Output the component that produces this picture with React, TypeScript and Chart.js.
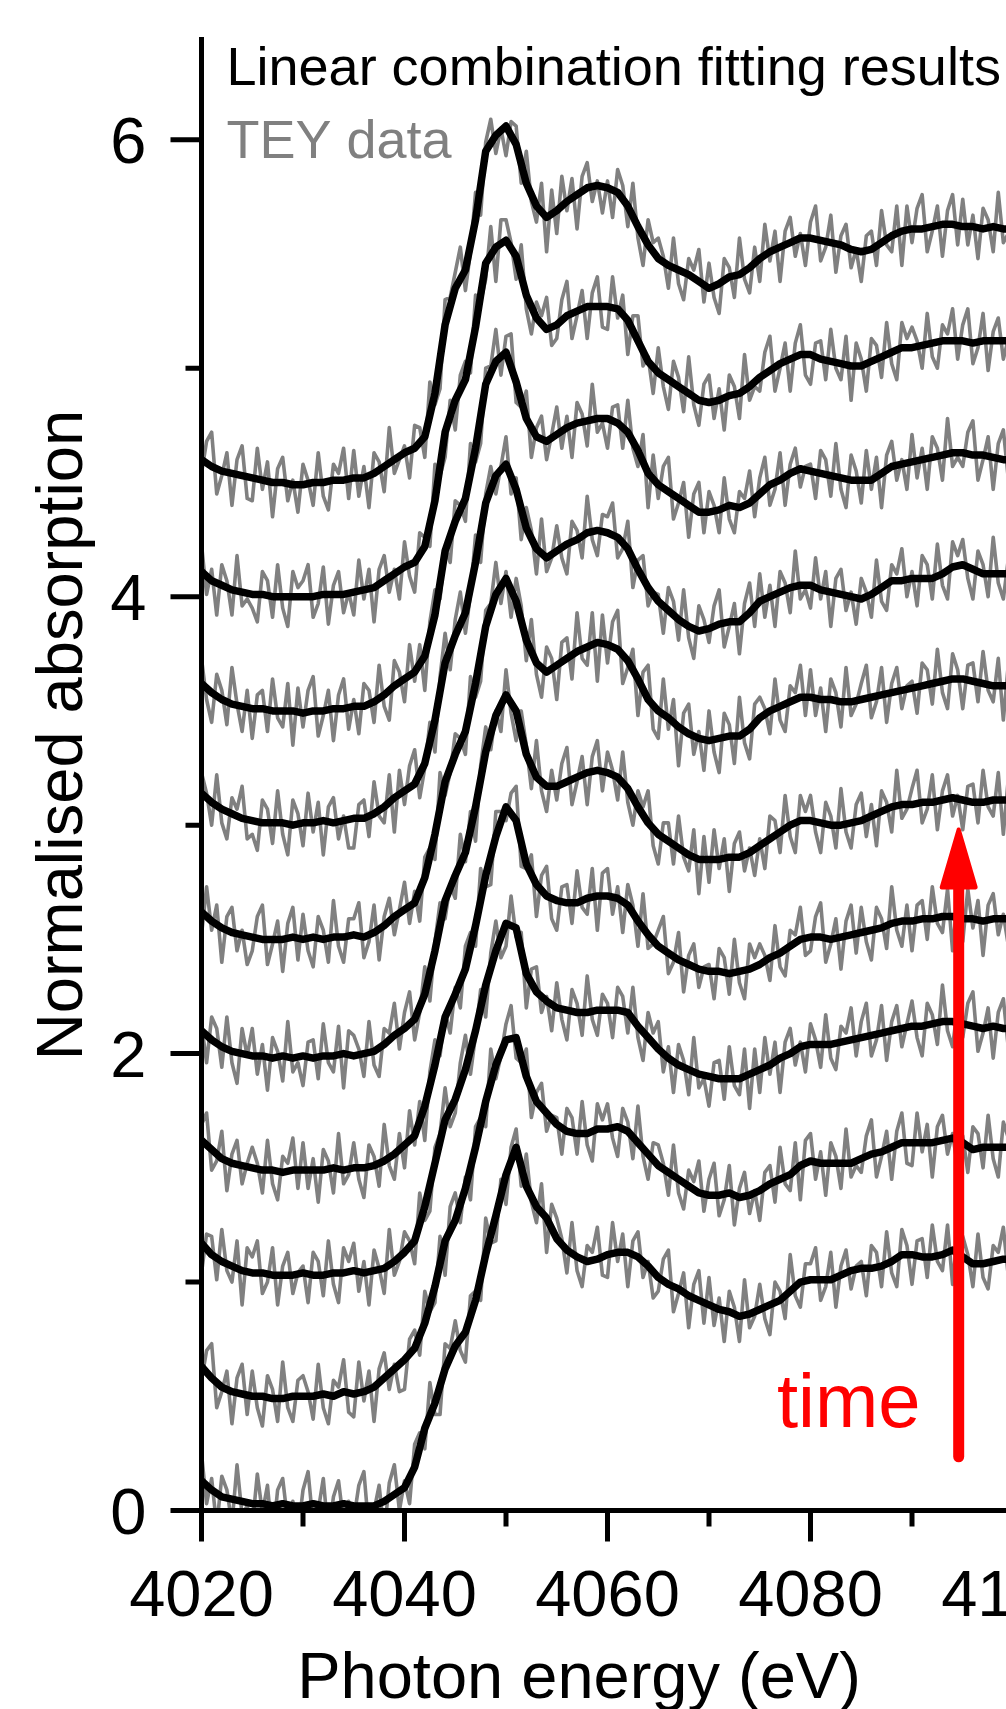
import React, { useEffect, useRef } from "react";
import { Chart, registerables } from "chart.js";

Chart.register(...registerables);

// ---------- data ----------
const energyStart = 4020; // eV
const fitStep = 1; // eV between fit points
const teyStep = 0.5; // eV between TEY points
const xMin = 4020;
const xMax = 4100;
const yMin = 0;
const yMax = 6.45;

const xMajorTicks = [4020, 4040, 4060, 4080, 4100];
const xMinorTicks = [4030, 4050, 4070, 4090];
const yMajorTicks = [0, 2, 4, 6];
const yMinorTicks = [1, 3, 5];

// vertical offsets of the stacked spectra (bottom = earliest)
const offsets = [0.0, 0.52, 1.05, 1.5, 2.0, 2.52, 3.03, 3.52, 4.02, 4.53];

// Linear combination fits (4020..4100 eV, 1 eV steps), relative to offset
const fit0 = [0.13,0.09,0.06,0.05,0.04,0.03,0.03,0.02,0.03,0.02, 0.02,0.03,0.02,0.02,0.03,0.02,0.02,0.02,0.04,0.07, 0.10,0.19,0.36,0.47,0.62,0.72,0.78,0.92,1.12,1.29, 1.47,1.59,1.42,1.33,1.28,1.19,1.14,1.11,1.09,1.10, 1.12,1.13,1.13,1.11,1.07,1.02,0.99,0.97,0.94,0.92, 0.90,0.88,0.87,0.85,0.86,0.88,0.90,0.92,0.96,1.00, 1.01,1.01,1.01,1.03,1.05,1.06,1.06,1.07,1.09,1.12, 1.12,1.11,1.11,1.12,1.14,1.11,1.08,1.08,1.09,1.10, 1.10];
const fit1 = [0.11,0.06,0.02,0.00,-0.01,-0.02,-0.02,-0.03,-0.03,-0.02, -0.02,-0.02,-0.01,-0.02,0.00,-0.01,0.00,0.02,0.06,0.10, 0.14,0.19,0.30,0.46,0.66,0.75,0.89,1.07,1.27,1.43, 1.54,1.55,1.38,1.27,1.22,1.17,1.14,1.13,1.13,1.15, 1.15,1.16,1.14,1.09,1.04,0.99,0.96,0.93,0.90,0.87, 0.86,0.86,0.87,0.85,0.86,0.88,0.91,0.93,0.95,0.99, 1.01,1.00,1.00,1.00,1.00,1.02,1.04,1.05,1.07,1.09, 1.09,1.09,1.09,1.10,1.11,1.09,1.06,1.07,1.07,1.07, 1.07];
const fit2 = [0.12,0.07,0.04,0.02,0.00,-0.01,-0.01,-0.02,-0.02,-0.02, -0.01,-0.02,-0.02,-0.01,-0.01,0.00,-0.01,0.00,0.01,0.04, 0.08,0.13,0.28,0.47,0.66,0.75,0.88,1.05,1.25,1.40, 1.52,1.50,1.30,1.22,1.18,1.15,1.14,1.13,1.13,1.14, 1.14,1.14,1.13,1.07,1.02,0.97,0.93,0.90,0.88,0.86, 0.85,0.84,0.84,0.84,0.86,0.88,0.90,0.93,0.95,0.98, 0.99,0.99,0.99,1.00,1.01,1.02,1.03,1.04,1.05,1.06, 1.07,1.07,1.08,1.09,1.09,1.08,1.07,1.06,1.07,1.06, 1.06];
const fit3 = [0.12,0.08,0.04,0.02,0.01,0.00,-0.01,-0.01,-0.02,-0.01, -0.01,-0.01,-0.01,0.00,-0.01,0.00,0.00,0.01,0.03,0.06, 0.10,0.14,0.27,0.45,0.66,0.76,0.87,1.06,1.28,1.45, 1.58,1.52,1.33,1.24,1.19,1.17,1.16,1.16,1.18,1.19, 1.19,1.18,1.15,1.08,1.02,0.97,0.94,0.91,0.89,0.87, 0.86,0.86,0.85,0.86,0.87,0.89,0.92,0.94,0.97,1.00, 1.01,1.01,1.00,1.01,1.02,1.03,1.04,1.05,1.07,1.08, 1.08,1.09,1.09,1.10,1.10,1.09,1.09,1.08,1.09,1.09, 1.09];
const fit4 = [0.10,0.06,0.03,0.01,0.00,-0.01,-0.01,-0.02,-0.01,-0.02, -0.01,-0.02,-0.01,-0.01,0.00,-0.01,0.00,0.01,0.04,0.08, 0.11,0.15,0.26,0.45,0.67,0.78,0.88,1.08,1.32,1.48, 1.57,1.50,1.31,1.21,1.17,1.17,1.19,1.21,1.23,1.24, 1.23,1.21,1.16,1.08,1.01,0.96,0.93,0.90,0.87,0.85, 0.85,0.85,0.86,0.86,0.88,0.91,0.94,0.97,1.00,1.02, 1.02,1.01,1.00,1.00,1.01,1.02,1.04,1.06,1.08,1.09, 1.09,1.10,1.10,1.11,1.12,1.11,1.10,1.10,1.11,1.11, 1.11];
const fit5 = [0.10,0.06,0.03,0.01,0.00,-0.01,-0.02,-0.02,-0.02,-0.01, -0.02,-0.01,-0.02,-0.01,-0.01,0.00,-0.01,0.01,0.04,0.08, 0.11,0.14,0.25,0.44,0.67,0.79,0.89,1.10,1.35,1.49, 1.56,1.46,1.29,1.19,1.15,1.18,1.21,1.24,1.26,1.28, 1.27,1.25,1.20,1.12,1.03,0.98,0.95,0.91,0.88,0.86, 0.85,0.86,0.87,0.87,0.90,0.95,0.98,1.00,1.02,1.04, 1.04,1.03,1.03,1.02,1.02,1.03,1.04,1.05,1.06,1.07, 1.08,1.09,1.10,1.11,1.12,1.12,1.11,1.10,1.09,1.09, 1.09];
const fit6 = [0.11,0.07,0.04,0.02,0.00,-0.01,-0.02,-0.02,-0.02,-0.03, -0.02,-0.02,-0.01,-0.02,-0.01,0.00,0.00,0.02,0.05,0.09, 0.12,0.15,0.24,0.43,0.68,0.80,0.90,1.12,1.38,1.50, 1.55,1.44,1.27,1.18,1.14,1.17,1.20,1.22,1.25,1.26, 1.25,1.23,1.18,1.09,1.01,0.95,0.91,0.87,0.84,0.82, 0.83,0.85,0.86,0.86,0.90,0.95,0.97,0.99,1.01,1.02, 1.02,1.00,0.99,0.98,0.97,0.96,0.98,1.01,1.04,1.04, 1.05,1.05,1.05,1.07,1.10,1.11,1.09,1.07,1.07,1.07, 1.07];
const fit7 = [0.10,0.06,0.03,0.01,0.00,-0.01,-0.01,-0.02,-0.02,-0.02, -0.03,-0.02,-0.02,-0.01,-0.01,0.00,0.00,0.02,0.05,0.09, 0.12,0.15,0.22,0.40,0.68,0.81,0.91,1.13,1.41,1.51, 1.55,1.42,1.26,1.18,1.16,1.19,1.22,1.24,1.25,1.26, 1.26,1.24,1.20,1.12,1.02,0.97,0.94,0.91,0.88,0.85, 0.85,0.86,0.88,0.87,0.89,0.93,0.97,0.99,1.02,1.04, 1.03,1.02,1.01,1.00,0.99,0.99,0.99,1.02,1.05,1.06, 1.07,1.08,1.09,1.10,1.11,1.11,1.10,1.10,1.09,1.08, 1.08];
const fit8 = [0.09,0.05,0.03,0.01,0.00,-0.01,-0.01,-0.02,-0.02,-0.02, -0.02,-0.02,-0.01,-0.01,-0.01,0.00,0.01,0.02,0.05,0.08, 0.11,0.13,0.20,0.40,0.70,0.84,0.93,1.16,1.44,1.51, 1.54,1.47,1.30,1.20,1.15,1.17,1.21,1.23,1.25,1.25, 1.25,1.24,1.19,1.10,1.01,0.96,0.93,0.90,0.87,0.84, 0.83,0.84,0.86,0.87,0.90,0.94,0.97,1.00,1.02,1.04, 1.04,1.02,1.01,1.00,0.99,0.99,1.01,1.03,1.05,1.07, 1.07,1.08,1.09,1.10,1.10,1.10,1.09,1.10,1.10,1.10, 1.10];
const fit9 = [0.07,0.04,0.02,0.01,0.00,-0.01,-0.02,-0.03,-0.03,-0.04, -0.04,-0.03,-0.03,-0.02,-0.02,-0.01,-0.01,0.01,0.04,0.07, 0.10,0.12,0.17,0.36,0.66,0.82,0.90,1.12,1.42,1.49, 1.53,1.45,1.28,1.18,1.13,1.16,1.20,1.23,1.26,1.27, 1.26,1.24,1.18,1.09,1.01,0.95,0.92,0.90,0.88,0.85, 0.82,0.84,0.87,0.88,0.91,0.95,0.98,1.00,1.02,1.04, 1.04,1.03,1.02,1.01,0.99,0.98,0.99,1.02,1.05,1.07, 1.08,1.08,1.09,1.10,1.10,1.09,1.09,1.08,1.09,1.08, 1.08];

// TEY data (4020..4100 eV, 0.5 eV steps), relative to offset
const tey0 = [
  0.25,0.03,0.14,-0.07,0.15,0.09,-0.06,0.20,-0.02,0.02,
  -0.07,0.16,-0.01,0.11,-0.13,0.09,0.14,-0.05,0.04,-0.10,
  0.09,0.17,-0.06,0.00,0.14,-0.11,0.06,0.13,-0.05,0.04,
  -0.04,0.11,0.17,-0.09,0.00,0.11,-0.10,0.12,0.20,0.00,
  0.13,0.03,0.29,0.34,0.27,0.56,0.42,0.42,0.73,0.71,
  0.83,0.70,0.65,0.94,0.96,0.92,1.28,1.17,1.18,1.45,
  1.34,1.59,1.67,1.42,1.56,1.35,1.26,1.43,1.13,1.34,
  1.28,1.19,1.04,1.26,1.05,0.98,1.16,1.13,1.24,1.03,
  1.02,1.26,1.09,1.21,0.98,1.18,1.22,1.02,1.09,0.93,
  0.96,1.10,1.14,0.87,0.95,1.04,0.80,0.99,1.05,0.82,
  1.02,0.81,0.93,0.74,0.96,0.89,0.74,1.01,0.80,0.85,
  0.99,0.84,0.77,1.00,0.96,0.84,1.12,0.94,0.89,1.08,
  1.08,1.15,0.92,0.98,1.13,0.89,1.07,1.14,0.97,1.07,
  1.09,0.94,1.16,1.13,0.98,1.22,1.04,0.98,1.23,1.16,
  0.99,1.18,1.19,1.02,1.25,1.09,1.05,1.25,0.99,1.23,
  1.20,1.12,0.98,1.21,1.02,0.97,1.16,1.13,1.24,1.02,
  1.13];
const tey1 = [
  0.05,0.18,0.21,-0.07,0.00,0.09,-0.14,0.06,0.12,-0.10,
  0.09,-0.07,-0.15,0.07,0.01,-0.13,0.13,-0.07,-0.13,0.05,
  0.07,0.00,-0.12,0.12,-0.07,-0.14,0.05,0.02,0.14,-0.09,
  -0.11,0.13,-0.04,0.09,-0.13,0.10,0.17,0.01,0.12,0.00,
  0.01,0.23,0.27,0.16,0.44,0.35,0.39,0.68,0.51,0.81,
  0.87,0.74,0.94,0.84,1.16,1.20,1.16,1.50,1.37,1.47,
  1.61,1.69,1.46,1.44,1.50,1.20,1.31,1.35,1.14,1.21,
  1.20,1.04,1.24,1.20,1.04,1.27,1.08,1.01,1.26,1.19,
  1.26,1.11,1.03,1.24,1.18,1.02,1.25,1.03,0.93,1.09,
  1.08,1.00,0.86,1.08,0.87,0.80,0.97,0.92,1.01,0.79,
  0.93,1.00,0.77,0.84,0.99,0.73,0.89,0.96,0.78,0.88,
  0.75,0.96,0.99,0.83,1.07,0.91,0.88,1.09,0.84,1.10,
  1.13,0.93,1.05,0.86,1.09,1.03,0.89,1.15,0.94,0.99,
  0.96,1.12,1.19,0.94,1.03,1.14,0.93,1.14,1.22,1.00,
  0.99,1.22,1.05,1.17,0.94,1.16,1.21,1.04,1.13,0.98,
  1.12,0.96,1.16,1.13,0.98,1.21,1.02,0.94,1.18,1.11,
  1.05];
const tey2 = [
  -0.01,0.16,0.15,-0.04,0.18,0.00,-0.05,0.13,-0.15,0.10,
  0.06,0.13,-0.10,-0.05,0.10,-0.15,0.02,0.08,-0.10,-0.01,
  0.02,-0.14,0.08,0.04,-0.11,0.13,-0.06,-0.14,0.10,0.04,
  0.12,-0.09,0.04,-0.15,0.09,0.01,-0.10,0.18,-0.02,0.04,
  0.17,0.13,0.03,0.34,0.22,0.26,0.54,0.60,0.80,0.63,
  0.69,0.91,1.03,0.86,1.03,1.23,1.11,1.39,1.53,1.37,
  1.42,1.64,1.46,1.48,1.15,1.32,1.33,1.13,1.20,1.05,
  1.26,1.10,1.01,1.23,1.17,1.03,1.29,1.10,1.03,1.21,
  1.17,1.02,1.24,1.20,1.04,1.24,1.02,0.92,1.13,1.04,
  1.09,0.87,0.98,0.78,0.99,0.92,0.77,1.02,0.80,0.84,
  0.72,0.91,0.92,0.75,0.98,0.81,0.77,0.97,0.71,0.97,
  0.78,1.02,0.86,1.00,0.78,1.00,1.06,0.90,1.00,0.87,
  1.08,1.01,0.89,1.12,0.93,0.88,1.07,1.04,1.15,0.94,
  1.09,1.17,0.94,1.01,1.16,0.92,1.09,1.16,0.98,1.08,
  1.18,1.02,0.94,1.17,1.12,0.99,1.25,1.05,0.98,1.16,
  1.02,1.17,1.22,0.96,1.04,1.15,0.93,1.13,1.19,0.97,
  1.10];
const tey3 = [
  0.19,0.24,-0.01,0.03,0.16,-0.10,0.06,0.12,-0.07,0.02,
  0.09,0.02,-0.11,0.12,-0.07,-0.14,0.05,0.02,0.13,-0.09,
  0.11,-0.09,0.04,-0.15,0.08,0.03,-0.11,0.15,-0.07,-0.03,
  0.11,-0.05,-0.13,0.10,0.05,-0.08,0.19,0.01,-0.05,0.15,
  0.00,0.25,0.10,0.29,0.12,0.42,0.56,0.49,0.68,0.59,
  0.79,0.70,0.97,1.03,0.97,1.31,1.23,1.24,1.56,1.56,
  1.52,1.64,1.67,1.32,1.31,1.37,1.10,1.28,1.32,1.09,
  1.04,1.23,1.24,1.07,1.30,1.14,1.11,1.31,1.04,1.29,
  1.31,1.11,1.23,1.03,1.24,1.15,0.97,1.20,0.96,0.98,
  1.04,1.10,0.85,0.90,1.03,0.77,0.93,0.98,0.79,0.88,
  0.89,0.74,0.96,0.92,0.76,1.00,0.81,0.74,0.98,0.92,
  0.98,0.93,0.82,1.06,0.88,0.84,1.04,1.02,1.14,0.93,
  0.95,1.10,1.16,0.90,0.98,1.09,0.87,1.08,1.15,0.94,
  1.14,0.99,0.91,1.14,1.09,0.96,1.23,1.04,0.97,1.15,
  0.95,1.15,1.17,1.00,1.23,1.07,1.03,1.22,0.95,1.20,
  0.99,1.22,1.05,1.17,0.93,1.15,1.20,1.02,1.11,0.97,
  1.13];
const tey4 = [
  0.13,-0.04,0.16,0.11,-0.06,0.16,-0.04,-0.13,0.11,-0.01,
  0.11,-0.09,0.04,-0.16,0.07,0.01,-0.12,0.14,-0.08,-0.04,
  -0.14,0.05,0.06,-0.11,0.13,-0.04,-0.08,0.12,-0.15,0.10,
  0.08,0.02,-0.10,0.14,-0.05,-0.10,0.11,0.09,0.22,0.02,
  0.18,0.27,0.06,0.18,0.38,0.23,0.49,0.66,0.59,0.74,
  0.68,0.96,0.84,1.06,0.93,1.26,1.43,1.33,1.50,1.41,
  1.68,1.49,1.37,1.50,1.35,1.16,1.37,1.15,1.06,1.24,
  1.11,1.27,1.34,1.09,1.19,1.30,1.09,1.30,1.37,1.15,
  1.32,1.24,1.11,1.32,1.10,1.00,1.15,1.08,1.15,0.91,
  0.83,1.01,1.01,0.83,1.04,0.86,0.80,0.98,0.70,0.95,
  0.75,0.98,0.81,0.94,0.71,0.92,0.97,0.80,0.90,0.78,
  0.94,0.81,1.04,1.02,0.88,1.13,0.95,0.88,1.13,1.06,
  1.13,0.97,0.88,1.10,1.04,0.90,1.16,0.97,0.90,1.09,
  1.14,0.95,1.09,0.91,1.15,1.10,0.97,1.24,1.03,1.07,
  1.16,1.24,1.01,1.07,1.22,0.98,1.15,1.22,1.04,1.13,
  0.98,1.17,1.18,1.01,1.24,1.08,1.04,1.23,0.96,1.21,
  1.15];
const tey5 = [
  0.00,0.21,0.02,0.13,-0.12,0.08,0.12,-0.07,0.02,-0.13,
  -0.07,0.08,0.13,-0.13,-0.04,0.06,-0.16,0.05,0.12,-0.11,
  0.09,-0.07,-0.14,0.08,0.02,-0.12,0.15,-0.05,-0.12,0.07,
  0.07,0.14,-0.10,-0.03,0.13,-0.11,0.08,0.16,0.00,0.11,
  0.23,0.05,0.19,0.06,0.34,0.38,0.33,0.71,0.61,0.71,
  0.88,0.86,0.79,1.13,1.04,1.11,1.42,1.45,1.63,1.45,
  1.59,1.39,1.56,1.44,1.20,1.38,1.14,1.04,1.26,1.21,
  1.03,1.28,1.30,1.12,1.41,1.21,1.18,1.41,1.11,1.40,
  1.19,1.37,1.42,1.10,1.17,1.25,0.96,1.15,1.18,0.90,
  0.86,1.12,0.90,1.03,0.74,0.97,1.01,0.79,0.89,0.72,
  0.98,0.80,0.71,0.97,0.92,0.75,1.04,0.84,0.77,1.01,
  1.04,0.99,0.88,1.12,0.94,0.89,1.09,1.06,1.18,0.96,
  1.16,0.96,1.08,0.89,1.12,1.06,0.91,1.17,0.96,1.01,
  1.10,1.18,0.95,1.02,1.17,0.93,1.10,1.17,0.99,1.09,
  1.11,0.97,1.19,1.16,1.01,1.25,1.06,0.99,1.23,1.16,
  0.99,1.18,1.19,1.02,1.24,1.07,1.02,1.21,0.94,1.19,
  1.13];
const tey6 = [
  0.20,0.11,-0.03,0.19,-0.02,-0.09,0.09,0.04,0.14,-0.09,
  -0.07,-0.14,0.08,0.04,-0.11,0.12,-0.07,-0.16,0.08,0.02,
  -0.12,0.11,-0.06,0.07,-0.16,0.05,0.09,-0.09,0.01,-0.13,
  -0.13,0.06,0.08,-0.08,0.16,0.01,-0.02,0.19,-0.06,0.21,
  0.06,0.23,0.30,0.09,0.22,0.42,0.29,0.62,0.81,0.65,
  0.87,0.99,0.81,0.98,1.24,1.12,1.42,1.54,1.42,1.54,
  1.67,1.42,1.49,1.22,1.36,1.26,1.07,1.31,1.08,1.14,
  1.28,1.14,1.07,1.30,1.26,1.14,1.41,1.22,1.15,1.33,
  1.32,1.38,1.14,1.18,1.30,1.01,1.13,1.15,0.93,0.99,
  0.98,0.81,1.01,0.95,0.78,1.00,0.79,0.70,0.93,0.87,
  0.77,0.93,1.00,0.75,0.84,0.94,0.72,0.94,1.03,0.84,
  1.07,0.88,1.02,0.84,1.08,1.03,0.90,1.17,0.96,1.00,
  0.92,1.14,0.96,1.08,0.84,1.05,1.09,0.91,0.99,0.85,
  1.05,0.99,0.88,1.13,0.95,0.91,1.11,1.07,1.18,0.97,
  1.08,0.93,1.15,1.11,0.96,1.20,1.02,0.96,1.21,1.15,
  1.22,1.05,0.96,1.17,1.11,0.97,1.23,1.03,0.96,1.14,
  1.04];
const tey7 = [
  0.21,0.03,-0.07,0.14,0.07,-0.08,0.17,0.01,-0.11,0.07,
  -0.14,0.05,0.07,-0.11,0.12,-0.05,-0.09,0.10,-0.17,0.08,
  -0.09,0.07,0.13,-0.13,-0.04,0.07,-0.15,0.05,0.12,-0.10,
  0.03,-0.12,0.10,0.07,-0.07,0.18,0.00,-0.06,0.20,0.15,
  0.02,0.27,0.11,0.27,0.07,0.37,0.51,0.47,0.70,0.63,
  0.90,0.88,0.81,1.15,1.07,1.15,1.48,1.49,1.65,1.45,
  1.62,1.63,1.33,1.31,1.38,1.09,1.22,1.27,1.08,1.19,
  1.31,1.13,1.27,1.09,1.33,1.28,1.14,1.41,1.20,1.24,
  1.13,1.31,1.32,1.13,1.34,1.13,1.05,1.19,0.87,1.10,
  0.91,1.05,1.09,0.82,0.89,0.98,0.74,0.93,0.98,0.76,
  0.94,0.88,0.76,1.00,0.82,0.76,0.94,0.91,1.03,0.83,
  1.00,1.09,0.88,0.95,1.11,0.88,1.06,1.13,0.96,1.05,
  1.06,0.91,1.12,1.08,0.92,1.15,0.95,0.87,1.10,1.03,
  0.89,1.12,0.95,1.09,0.87,1.10,1.16,0.99,1.08,0.95,
  1.19,1.00,1.13,0.95,1.18,1.13,0.99,1.26,1.05,1.09,
  1.05,1.20,1.25,0.99,1.08,1.18,0.95,1.15,1.21,0.99,
  1.12];
const tey8 = [
  0.21,-0.01,0.10,-0.10,0.12,0.05,-0.10,0.16,-0.06,-0.03,
  -0.07,-0.13,0.09,0.05,-0.11,0.12,-0.07,-0.15,0.09,0.02,
  0.05,0.12,-0.11,-0.05,0.11,-0.14,0.03,0.09,-0.09,0.00,
  -0.10,0.14,-0.03,0.10,-0.13,0.10,0.16,0.00,0.10,-0.03,
  0.22,0.07,0.00,0.26,0.24,0.20,0.56,0.51,0.59,0.84,
  0.71,0.95,1.01,0.96,1.30,1.27,1.37,1.60,1.36,1.63,
  1.63,1.53,1.37,1.52,1.24,1.13,1.27,1.21,1.29,1.08,
  1.11,1.28,1.36,1.11,1.21,1.32,1.11,1.31,1.38,1.16,
  1.15,1.38,1.20,1.30,1.04,1.21,1.21,0.99,1.03,0.87,
  1.07,0.90,0.80,1.01,0.94,0.79,1.03,0.82,0.73,0.91,
  0.95,0.76,0.89,0.71,0.95,0.90,0.76,1.04,0.84,0.90,
  0.88,1.05,1.12,0.88,0.98,1.09,0.88,1.09,1.17,0.95,
  0.91,1.09,1.10,0.93,1.15,0.98,0.93,1.12,0.84,1.09,
  1.02,0.88,1.11,1.08,0.94,1.18,1.00,0.93,1.18,1.11,
  1.16,1.10,0.98,1.22,1.03,0.98,1.17,1.13,1.24,1.02,
  1.17,1.24,1.00,1.07,1.22,0.97,1.14,1.20,1.02,1.11,
  1.14];
const tey9 = [
  0.01,0.15,0.19,-0.08,0.00,0.10,-0.13,0.07,0.13,-0.10,
  -0.11,0.12,-0.06,0.06,-0.18,0.03,0.08,-0.11,-0.02,-0.16,
  0.05,-0.02,-0.13,0.10,-0.09,-0.15,0.05,0.01,0.12,-0.10,
  0.11,-0.09,0.04,-0.14,0.10,0.06,-0.07,0.21,0.01,0.07,
  0.13,-0.01,0.22,0.21,0.08,0.41,0.31,0.38,0.77,0.78,
  0.89,1.00,0.81,0.98,1.24,1.14,1.46,1.56,1.41,1.52,
  1.40,1.55,1.53,1.28,1.42,1.20,1.11,1.28,0.98,1.25,
  1.06,1.31,1.16,1.30,1.08,1.31,1.37,1.20,1.29,1.15,
  1.29,1.13,1.34,1.27,1.09,1.28,1.04,0.92,1.12,1.02,
  1.04,0.96,0.82,1.04,0.84,0.77,0.95,0.90,0.99,0.76,
  0.93,0.78,0.71,0.95,0.91,0.78,1.04,0.86,0.80,1.00,
  0.85,1.10,0.94,1.07,0.85,1.07,1.13,0.96,1.06,0.92,
  1.11,1.18,0.94,1.00,1.14,0.89,1.05,1.10,0.91,0.99,
  0.85,1.05,1.07,0.92,1.16,1.01,0.98,1.18,0.92,1.18,
  1.02,1.17,1.23,0.98,1.07,1.18,0.96,1.16,1.23,1.01,
  1.21,1.01,1.14,0.95,1.17,1.12,0.98,1.24,1.02,1.06,
  1.11];

const fits = [fit0, fit1, fit2, fit3, fit4, fit5, fit6, fit7, fit8, fit9];
const teys = [tey0, tey1, tey2, tey3, tey4, tey5, tey6, tey7, tey8, tey9];

const legendFitText = "Linear combination fitting results";
const legendTeyText = "TEY data";
const xTitle = "Photon energy (eV)";
const yTitle = "Normalised absorption";
const timeText = "time";

// arrow (data coordinates)
const arrowEnergy = 4094.6;
const arrowTail = 0.235;
const arrowTip = 2.99;
const timeLabelEnergy = 4076.7;
const timeLabelValue = 0.366;

// ---------- styling ----------
const FONT = "'Liberation Sans', Arial, Helvetica, sans-serif";
const GRAY = "#808080";
const CANVAS_W = 1100;
const CANVAS_H = 1709;

const decorPlugin = {
  id: "decor",
  afterDraw(chart: any) {
    const { ctx, chartArea: ca, scales } = chart;
    const xs = scales.x;
    const ys = scales.y;
    ctx.save();

    // axes
    ctx.strokeStyle = "#000";
    ctx.lineWidth = 5;
    ctx.lineCap = "butt";
    ctx.beginPath();
    ctx.moveTo(ca.left, ca.top);
    ctx.lineTo(ca.left, ca.bottom + 2.5);
    ctx.moveTo(ca.left - 2.5, ca.bottom);
    ctx.lineTo(chart.width, ca.bottom);
    for (const v of yMajorTicks) {
      const py = ys.getPixelForValue(v);
      ctx.moveTo(ca.left - 31, py);
      ctx.lineTo(ca.left, py);
    }
    for (const v of yMinorTicks) {
      const py = ys.getPixelForValue(v);
      ctx.moveTo(ca.left - 16, py);
      ctx.lineTo(ca.left, py);
    }
    for (const v of xMajorTicks) {
      const px = xs.getPixelForValue(v);
      ctx.moveTo(px, ca.bottom);
      ctx.lineTo(px, ca.bottom + 31);
    }
    for (const v of xMinorTicks) {
      const px = xs.getPixelForValue(v);
      ctx.moveTo(px, ca.bottom);
      ctx.lineTo(px, ca.bottom + 16);
    }
    ctx.stroke();

    // tick labels
    ctx.fillStyle = "#000";
    ctx.font = `65px ${FONT}`;
    ctx.textBaseline = "alphabetic";
    ctx.textAlign = "center";
    for (const v of xMajorTicks) {
      ctx.fillText(String(v), xs.getPixelForValue(v), ca.bottom + 105);
    }
    ctx.textAlign = "right";
    for (const v of yMajorTicks) {
      ctx.fillText(String(v), ca.left - 55, ys.getPixelForValue(v) + 23);
    }

    // axis titles
    ctx.textAlign = "center";
    ctx.font = `65px ${FONT}`;
    ctx.fillText(xTitle, 579, 1698);
    ctx.save();
    ctx.translate(82, 735);
    ctx.rotate(-Math.PI / 2);
    ctx.fillText(yTitle, 0, 0);
    ctx.restore();

    // legend text
    ctx.textAlign = "left";
    ctx.font = `54px ${FONT}`;
    ctx.fillStyle = "#000";
    ctx.fillText(legendFitText, ca.left + 25, 85);
    ctx.fillStyle = GRAY;
    ctx.fillText(legendTeyText, ca.left + 25, 158);

    // time arrow
    const ax = xs.getPixelForValue(arrowEnergy);
    const tipY = ys.getPixelForValue(arrowTip);
    const tailY = ys.getPixelForValue(arrowTail);
    ctx.strokeStyle = "#ff0000";
    ctx.fillStyle = "#ff0000";
    ctx.lineWidth = 11;
    ctx.lineCap = "round";
    ctx.beginPath();
    ctx.moveTo(ax, tailY);
    ctx.lineTo(ax, tipY + 50);
    ctx.stroke();
    ctx.lineWidth = 4;
    ctx.lineJoin = "round";
    ctx.beginPath();
    ctx.moveTo(ax, tipY + 2);
    ctx.lineTo(ax + 17, tipY + 60);
    ctx.lineTo(ax - 17, tipY + 60);
    ctx.closePath();
    ctx.fill();
    ctx.stroke();

    ctx.font = `76px ${FONT}`;
    ctx.textAlign = "left";
    ctx.fillText(timeText, xs.getPixelForValue(timeLabelEnergy), ys.getPixelForValue(timeLabelValue));

    ctx.restore();
  },
};

export default function App() {
  const canvasRef = useRef<HTMLCanvasElement | null>(null);

  useEffect(() => {
    const canvas = canvasRef.current;
    if (!canvas) return;

    const teySets = teys.map((arr, i) => ({
      label: `TEY ${i + 1}`,
      data: arr.map((v, k) => ({ x: energyStart + k * teyStep, y: v + offsets[i] })),
      borderColor: GRAY,
      borderWidth: 3.6,
      pointRadius: 0,
      tension: 0,
      borderJoinStyle: "round" as const,
      order: 2,
    }));
    const fitSets = fits.map((arr, i) => ({
      label: `Fit ${i + 1}`,
      data: arr.map((v, k) => ({ x: energyStart + k * fitStep, y: v + offsets[i] })),
      borderColor: "#000000",
      borderWidth: 7.5,
      pointRadius: 0,
      tension: 0,
      borderJoinStyle: "round" as const,
      borderCapStyle: "round" as const,
      order: 1,
    }));

    const chart = new Chart(canvas, {
      type: "line",
      data: { datasets: [...fitSets, ...teySets] },
      options: {
        responsive: false,
        animation: false,
        devicePixelRatio: 1,
        layout: { padding: { left: 201.5, right: CANVAS_W - 1013.5, top: 37, bottom: CANVAS_H - 1510.5 } },
        scales: {
          x: { type: "linear", min: xMin, max: xMax, display: false },
          y: { type: "linear", min: yMin, max: yMax, display: false },
        },
        plugins: { legend: { display: false }, tooltip: { enabled: false } },
        events: [],
      },
      plugins: [decorPlugin],
    });
    return () => chart.destroy();
  }, []);

  return (
    <div
      style={{
        position: "fixed",
        left: 0,
        top: 0,
        width: 1006,
        height: 1709,
        overflow: "hidden",
        background: "#ffffff",
      }}
    >
      <canvas ref={canvasRef} width={CANVAS_W} height={CANVAS_H} style={{ display: "block" }} />
    </div>
  );
}
